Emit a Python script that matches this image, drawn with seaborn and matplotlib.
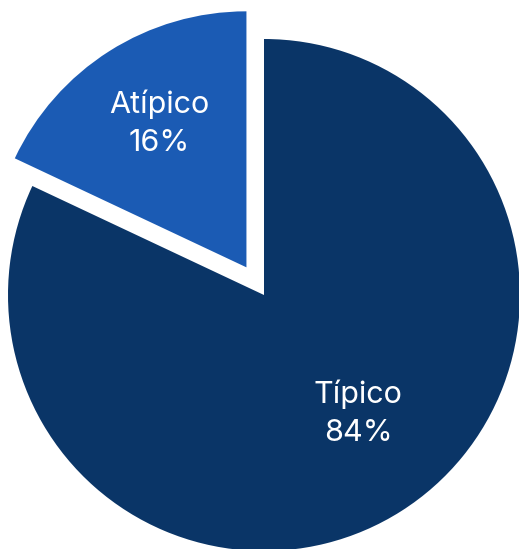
import matplotlib
matplotlib.use("Agg")
import matplotlib.pyplot as plt
import seaborn as sns
import numpy as np

categories = ["Típico", "Atípico"]
percent_labels = [84, 16]        # percentages printed on the chart
slice_sizes = [82, 18]           # slice sizes as drawn in the picture
colors = ["#0A3567", "#1B5BB4"]
explode = [0.0, 0.128]

sns.set_theme(style="white")
plt.rcParams['font.family'] = ['Inter', 'DejaVu Sans']

W, H = 519, 549
fig = plt.figure(figsize=(W / 100, H / 100), dpi=100)
ax = fig.add_axes([0, 0, 1, 1])

R = 256.0
cx, cy = 264.0, 295.0  # pixel centre of main pie (from top)

wedges, _ = ax.pie(slice_sizes, colors=colors, explode=explode, startangle=90,
                   counterclock=False, radius=1.0, wedgeprops=dict(linewidth=0))

ax.set_xlim(-cx / R, (W - cx) / R)
ax.set_ylim(-(H - cy) / R, cy / R)
ax.set_aspect('auto')
ax.axis('off')

# label positions (pixel, from top)
label_px = [(358, 413), (159, 123)]
for cat, val, (px, py) in zip(categories, percent_labels, label_px):
    x = (px - cx) / R
    y = (cy - py) / R
    ax.text(x, y, f"{cat}\n{val}%", ha="center", va="center", color="white",
            fontsize=22, linespacing=1.45)

fig.savefig("out.png", dpi=100, facecolor="white")
